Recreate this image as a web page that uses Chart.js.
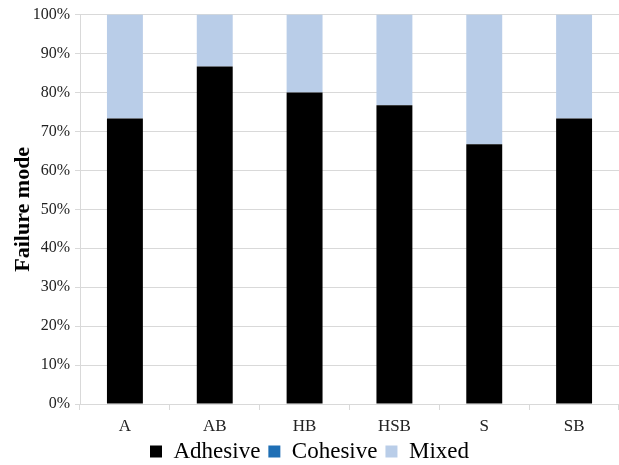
<!DOCTYPE html>
<html>
<head>
<meta charset="utf-8">
<script src="https://cdn.jsdelivr.net/npm/chart.js@4/dist/chart.umd.min.js"></script>
<style>
  html, body { margin: 0; padding: 0; background: #fff; }
  #wrap { width: 619px; height: 465px; }
</style>
</head>
<body>
<div id="wrap"><canvas id="chart" width="619" height="465"></canvas></div>
<script>
const categories = ['A', 'AB', 'HB', 'HSB', 'S', 'SB'];
const adhesive = [73.3, 86.7, 80, 76.7, 66.7, 73.3];
const cohesive = [0, 0, 0, 0, 0, 0];
const mixed = [26.7, 13.3, 20, 23.3, 33.3, 26.7];
const yTicks = [0, 10, 20, 30, 40, 50, 60, 70, 80, 90, 100];

const serif = "'Liberation Serif', 'DejaVu Serif', serif";
const gridColor = '#d9d9d9';

// x labels get clipped to the axis box, let that box overlap the legend a little
const unclipX = {
    id: 'unclipX',
    afterLayout(chart) {
        chart.scales.x.bottom += 12;
    }
};

new Chart(document.getElementById('chart'), {
    type: 'bar',
    data: {
        labels: categories,
        datasets: [
            { label: 'Adhesive', data: adhesive, backgroundColor: '#000000' },
            { label: 'Cohesive', data: cohesive, backgroundColor: '#1f6fb5' },
            { label: 'Mixed', data: mixed, backgroundColor: '#b9cde8' }
        ]
    },
    plugins: [unclipX],
    options: {
        responsive: false,
        animation: false,
        // negative bottom padding pushes the legend box a bit lower
        layout: { padding: { top: 6, right: 0, left: 0, bottom: -8 } },
        datasets: { bar: { categoryPercentage: 1, barPercentage: 0.4 } },
        plugins: {
            tooltip: { enabled: false },
            legend: {
                position: 'bottom',
                labels: {
                    font: { family: serif, size: 23 },
                    color: '#000',
                    boxWidth: 12,
                    boxHeight: 12,
                    padding: 8
                }
            }
        },
        scales: {
            x: {
                stacked: true,
                grid: { drawOnChartArea: false, color: gridColor, tickLength: 6, offset: true },
                border: { color: gridColor },
                ticks: { font: { family: serif, size: 17 }, color: '#222', padding: 6 },
                afterFit: s => { s.height = 28; }
            },
            y: {
                stacked: true,
                min: 0,
                max: 100,
                afterBuildTicks: s => { s.ticks = yTicks.map(v => ({ value: v })); },
                grid: { color: gridColor, tickLength: 5 },
                border: { color: gridColor },
                ticks: {
                    font: { family: serif, size: 16 },
                    color: '#222',
                    padding: 5,
                    callback: v => v + '%'
                },
                title: {
                    display: true,
                    text: 'Failure mode',
                    font: { family: serif, size: 22, weight: 'bold' },
                    color: '#000',
                    padding: { top: 10, bottom: 2 }
                },
                afterFit: s => { s.width = 80; }
            }
        }
    }
});
</script>
</body>
</html>
